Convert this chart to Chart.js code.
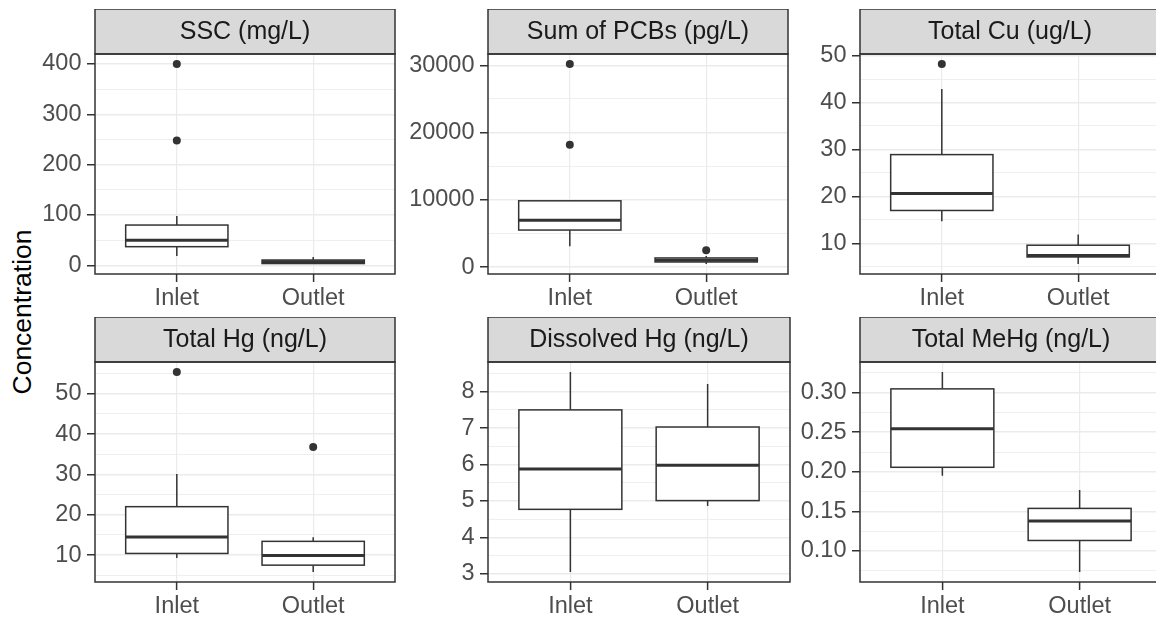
<!DOCTYPE html>
<html>
<head>
<meta charset="utf-8">
<script src="https://cdn.jsdelivr.net/npm/chart.js@4"></script>
<style>
  html, body { margin: 0; padding: 0; background: #fff; overflow: hidden; }
  body { width: 1156px; height: 619px; position: relative; }
  .panel { position: absolute; }
  #ylab {
    position: absolute; width: 240px; height: 32px; line-height: 32px;
    left: -98px; top: 296px; text-align: center;
    transform: rotate(-90deg);
    font-family: 'Liberation Sans', Arial, sans-serif; font-size: 26.5px; color: #000;
  }
</style>
</head>
<body>
<div id="ylab">Concentration</div>
<script>
// categories (x axis)
const categories = ['Inlet', 'Outlet'];

// facet titles
const panelTitles = ['SSC (mg/L)', 'Sum of PCBs (pg/L)', 'Total Cu (ug/L)',
                     'Total Hg (ng/L)', 'Dissolved Hg (ng/L)', 'Total MeHg (ng/L)'];

// box stats per category: [lower whisker, Q1, median, Q3, upper whisker]
const sscStats = [[18.5, 37, 50, 80, 98], [2.6, 3.5, 7, 10.5, 16.5]];
const pcbStats = [[3100, 5500, 6950, 9850, 9900], [450, 750, 1000, 1350, 1650]];
const cuStats = [[14.7, 17.0, 20.6, 28.9, 42.9], [5.6, 7.1, 7.4, 9.6, 11.9]];
const thgStats = [[9.3, 10.4, 14.5, 22.0, 30.1], [5.8, 7.5, 9.9, 13.4, 14.4]];
const dhgStats = [[3.05, 4.77, 5.88, 7.5, 8.54], [4.86, 5.01, 5.98, 7.03, 8.21]];
const mehgStats = [[0.195, 0.2057, 0.2543, 0.3047, 0.326], [0.0735, 0.1133, 0.138, 0.1538, 0.177]];

// outliers per category
const sscOut = [[400, 248], []];
const pcbOut = [[30200, 18200], [2500]];
const cuOut = [[48.2], []];
const thgOut = [[55.4], [36.8]];
const dhgOut = [[], []];
const mehgOut = [[], []];

// y tick labels
const sscTicks = ['0', '100', '200', '300', '400'];
const pcbTicks = ['0', '10000', '20000', '30000'];
const cuTicks = ['10', '20', '30', '40', '50'];
const thgTicks = ['10', '20', '30', '40', '50'];
const dhgTicks = ['3', '4', '5', '6', '7', '8'];
const mehgTicks = ['0.10', '0.15', '0.20', '0.25', '0.30'];

const allStats = [sscStats, pcbStats, cuStats, thgStats, dhgStats, mehgStats];
const allOut = [sscOut, pcbOut, cuOut, thgOut, dhgOut, mehgOut];
const allTicks = [sscTicks, pcbTicks, cuTicks, thgTicks, dhgTicks, mehgTicks];

// layout
const plotLeft = [95, 488, 860];
const rowTop = [9, 317];
const stripH = 45, plotW = 302, plotH = 220, YW = 90, XH = 45;
const FONT = "'Liberation Sans', Arial, sans-serif";
const DARK = '#333333';

const boxPlugin = {
  id: 'boxes',
  beforeDatasetsDraw(chart, args, opts) {
    const ctx = chart.ctx, xs = chart.scales.x, ys = chart.scales.y, a = chart.chartArea;
    ctx.save();
    ctx.beginPath();
    ctx.rect(a.left, a.top, a.right - a.left, a.bottom - a.top);
    ctx.clip();
    ctx.strokeStyle = DARK;
    opts.stats.forEach((s, i) => {
      const cx = xs.getPixelForValue(i + 1);
      const x0 = xs.getPixelForValue(i + 1 - 0.375), x1 = xs.getPixelForValue(i + 1 + 0.375);
      const [lo, q1, med, q3, hi] = s.map(v => ys.getPixelForValue(v));
      ctx.lineWidth = 1.5;
      ctx.beginPath();
      ctx.moveTo(cx, lo); ctx.lineTo(cx, q1);
      ctx.moveTo(cx, q3); ctx.lineTo(cx, hi);
      ctx.stroke();
      ctx.fillStyle = '#fff';
      ctx.fillRect(x0, q3, x1 - x0, q1 - q3);
      ctx.strokeRect(x0, q3, x1 - x0, q1 - q3);
      ctx.lineWidth = 3;
      ctx.beginPath();
      ctx.moveTo(x0, med); ctx.lineTo(x1, med);
      ctx.stroke();
    });
    ctx.restore();
  },
  afterDraw(chart, args, opts) {
    const ctx = chart.ctx, a = chart.chartArea;
    ctx.save();
    ctx.fillStyle = '#D9D9D9';
    ctx.fillRect(a.left, a.top - stripH, a.right - a.left, stripH);
    ctx.strokeStyle = DARK;
    ctx.lineWidth = 1.5;
    ctx.strokeRect(a.left, a.top - stripH, a.right - a.left, stripH);
    ctx.strokeRect(a.left, a.top, a.right - a.left, a.bottom - a.top);
    ctx.fillStyle = '#1A1A1A';
    ctx.font = '25px ' + FONT;
    ctx.textAlign = 'center';
    ctx.textBaseline = 'middle';
    ctx.fillText(opts.title, (a.left + a.right) / 2, a.top - stripH / 2 + 1);
    ctx.restore();
  }
};

function buildPanel(p) {
  const col = p % 3, row = Math.floor(p / 3);
  const stats = allStats[p], outs = allOut[p], tickLabels = allTicks[p];

  const vals = stats.flat().concat(outs.flat());
  const dmin = Math.min(...vals), dmax = Math.max(...vals);
  const pad = (dmax - dmin) * 0.05;
  const ymin = dmin - pad, ymax = dmax + pad;

  const majors = tickLabels.map(Number);
  const step = majors[1] - majors[0];
  const yTicks = majors.map(v => ({ value: v }));
  for (let v = majors[0] - step / 2; v <= majors[majors.length - 1] + step / 2 + 1e-9; v += step) {
    const m = +v.toFixed(6);
    if (m >= ymin && m <= ymax) yTicks.push({ value: m, minor: true });
  }
  yTicks.sort((a, b) => a.value - b.value);

  const div = document.createElement('div');
  div.className = 'panel';
  const w = YW + plotW + 2, h = stripH + plotH + XH;
  div.style.left = (plotLeft[col] - YW) + 'px';
  div.style.top = rowTop[row] + 'px';
  div.style.width = w + 'px';
  div.style.height = h + 'px';
  const canvas = document.createElement('canvas');
  canvas.width = w; canvas.height = h;
  div.appendChild(canvas);
  document.body.appendChild(div);

  const outlierData = [];
  outs.forEach((list, i) => list.forEach(v => outlierData.push({ x: i + 1, y: v })));

  new Chart(canvas.getContext('2d'), {
    type: 'scatter',
    data: {
      datasets: [{
        data: outlierData,
        pointRadius: 4,
        pointBackgroundColor: DARK,
        pointBorderWidth: 0
      }]
    },
    options: {
      responsive: false,
      animation: false,
      layout: { padding: { top: stripH, right: 2, left: 0, bottom: 0 } },
      scales: {
        x: {
          type: 'linear',
          min: 0.4,
          max: 2.6,
          afterBuildTicks: s => { s.ticks = [{ value: 1 }, { value: 2 }]; },
          afterFit: s => { s.height = XH; },
          border: { display: false },
          grid: { color: '#EBEBEB', lineWidth: 1.2, tickColor: DARK, tickLength: 8, tickWidth: 1.5 },
          ticks: {
            autoSkip: false, maxRotation: 0, padding: 2,
            color: '#4D4D4D', font: { family: FONT, size: 23.5 },
            callback: v => categories[Math.round(v) - 1]
          }
        },
        y: {
          type: 'linear',
          min: ymin,
          max: ymax,
          afterBuildTicks: s => { s.ticks = yTicks.map(t => ({ ...t })); },
          afterFit: s => { s.width = YW; },
          border: { display: false },
          grid: {
            color: '#EBEBEB',
            lineWidth: c => (c.tick && c.tick.minor) ? 0.8 : 1.5,
            tickColor: c => (c.tick && c.tick.minor) ? 'rgba(0,0,0,0)' : DARK,
            tickLength: 8,
            tickWidth: 1.5
          },
          ticks: {
            autoSkip: false, padding: 5.5,
            color: '#4D4D4D', font: { family: FONT, size: 23.5 },
            callback: (v, i, ticks) => {
              if (ticks[i].minor) return '';
              const k = majors.findIndex(m => Math.abs(m - v) < step * 1e-3);
              return k >= 0 ? tickLabels[k] : '';
            }
          }
        }
      },
      plugins: {
        legend: { display: false },
        tooltip: { enabled: false },
        boxes: { stats: stats, title: panelTitles[p] }
      }
    },
    plugins: [boxPlugin]
  });
}

for (let p = 0; p < 6; p++) buildPanel(p);
</script>
</body>
</html>
